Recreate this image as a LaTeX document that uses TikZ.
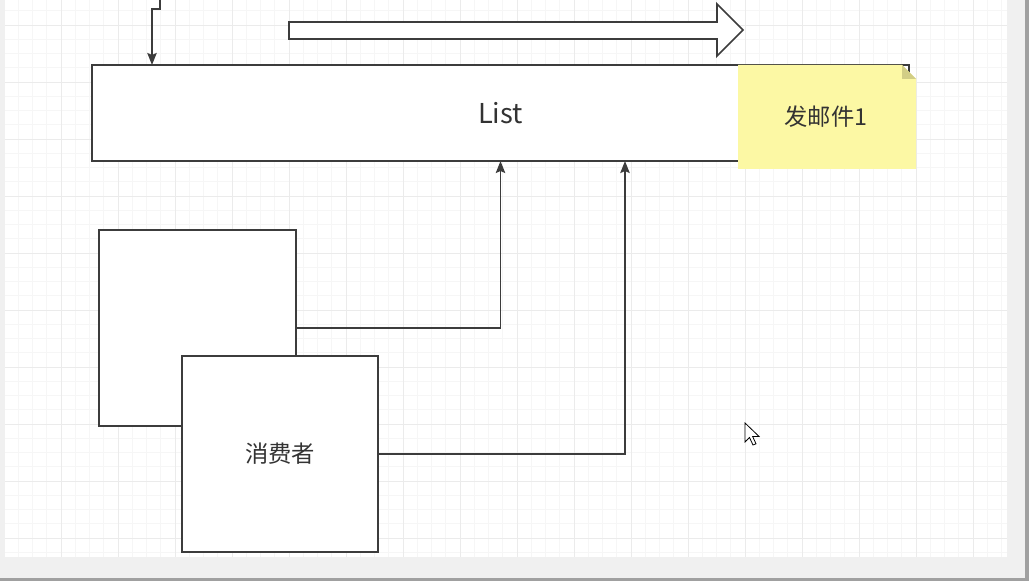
\documentclass[tikz,border=0pt]{standalone}
\usepackage{fontspec}
\setmainfont{Noto Sans CJK SC}
\usetikzlibrary{arrows.meta}
\definecolor{ln}{HTML}{3C3C3C}
\definecolor{gminor}{HTML}{F6F6F6}
\definecolor{gmajor}{HTML}{EBEBEB}
\definecolor{band}{HTML}{F0F0F0}
\definecolor{rim}{HTML}{A0A0A0}
\definecolor{notefill}{HTML}{FCF8A4}
\definecolor{notefold}{HTML}{D2CE86}
\definecolor{txt}{HTML}{333333}
\tikzset{
  boxshape/.style={draw=ln, line width=1.3pt, fill=white, inner sep=0pt, outer sep=0pt},
  conn/.style={draw=ln, line width=1.3pt, -{Stealth[length=9pt,width=7pt,inset=1.5pt]}},
  cjk/.style={text=txt, font=\fontsize{17.5}{20}\selectfont},
}
\begin{document}
\begin{tikzpicture}[x=0.75pt,y=-0.75pt]
\useasboundingbox (0,0) rectangle (1029,581);
% frame
\fill[rim] (0,0) rectangle (1029,581);
\fill[band] (0,0) rectangle (1025,578);
\fill[white] (5,0) rectangle (1007,557);
\begin{scope}
\clip (5,0) rectangle (1007,557);
\foreach \i in {0,...,71} {
  \draw[gminor, line width=0.6pt] ({4+\i*14.25},0) -- ({4+\i*14.25},557);
}
\foreach \j in {0,...,42} {
  \draw[gminor, line width=0.6pt] (5,{-32+\j*14.25}) -- (1007,{-32+\j*14.25});
}
\foreach \i in {0,...,18} {
  \draw[gmajor, line width=0.7pt] ({4+\i*57},0) -- ({4+\i*57},557);
}
\foreach \j in {0,...,11} {
  \draw[gmajor, line width=0.7pt] (5,{-32+\j*57}) -- (1007,{-32+\j*57});
}
\end{scope}

% big hollow arrow
\draw[ln, line width=1.3pt, fill=white, line join=miter]
  (289,22) -- (717,22) -- (717,4) -- (743,30) -- (717,56) -- (717,39) -- (289,39) -- cycle;

% List box
\node[boxshape, minimum width=817*0.75pt, minimum height=96*0.75pt,
      text=txt, font=\fontsize{20.5}{24}\selectfont] (list) at (500.5,113) {List};

% sticky note
\fill[notefill] (738,65) -- (902,65) -- (916,79) -- (916,169) -- (738,169) -- cycle;
\fill[notefold] (902,65) -- (916,79) -- (902,79) -- cycle;
\node[cjk, inner sep=0pt, minimum width=178*0.75pt, minimum height=104*0.75pt] (note) at (826,117) {发邮件1};

% consumer boxes
\node[boxshape, minimum width=197*0.75pt, minimum height=196*0.75pt] (box1) at (197.5,328) {};
\node[boxshape, cjk, minimum width=196*0.75pt, minimum height=196*0.75pt] (box2) at (280,454) {消费者};

% connectors
\coordinate (top0) at (160,0);
\coordinate (lnw) at (152,65);
\coordinate (ls2) at (625,161);
\draw[conn] (top0) -- ++(0,9) -| (lnw);
\draw[conn] (box1.east) -| (list.south);
\draw[conn] (box2.east) -| (ls2);

% mouse cursor
\draw[black, line width=0.6pt, fill=white, line join=miter]
  (745,423) -- (745,442) -- (749.5,437.5) -- (753,445) -- (756,443.8) -- (752.6,436.4) -- (759,436.4) -- cycle;
\end{tikzpicture}
\end{document}
